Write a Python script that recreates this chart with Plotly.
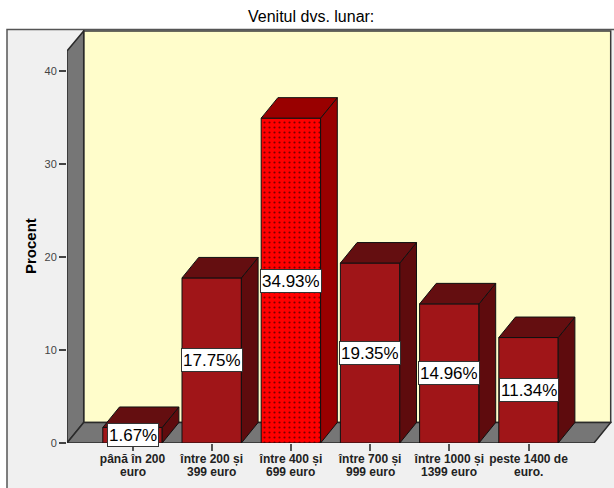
import plotly.graph_objects as go

categories = ["până în 200<br>euro", "între 200 și<br>399 euro", "între 400 și<br>699 euro",
              "între 700 și<br>999 euro", "între 1000 și<br>1399 euro", "peste 1400 de<br>euro."]
percent = [1.67, 17.75, 34.93, 19.35, 14.96, 11.34]
y_ticks = [0, 10, 20, 30, 40]
highlight = 2

W, H = 614, 488
PL, PR, PT, PB = 67, 612, 30, 443     # plot area in pixels
CAT_STEP = 79.2
Y_STEP = 9.3
x_min = -(132.5 - PL) / CAT_STEP
x_max = x_min + (PR - PL) / CAT_STEP
y_max = (PB - PT) / Y_STEP

BAR_W = 59.4 / CAT_STEP
DX = 16.7 / CAT_STEP
DY = 20.5 / Y_STEP
FRONT_END = x_min + (594 - PL) / CAT_STEP
WALL_TOP = (PB - 51) / Y_STEP

FRONT, SIDE, TOP = "#A01518", "#5E0B0D", "#640E10"
H_FRONT, H_SIDE = "#FF0000", "#990000"
EDGE = "#111111"
WALL = "#767676"
BACK = "#FFFDCB"
PANEL = "#F0F0F0"

fig = go.Figure()

plain = [i for i in range(len(percent)) if i != highlight]
fig.add_trace(go.Bar(
    x=plain, y=[percent[i] for i in plain], width=BAR_W,
    marker=dict(color=FRONT, line=dict(color=EDGE, width=1)),
    hoverinfo="skip", showlegend=False,
))
fig.add_trace(go.Bar(
    x=[highlight], y=[percent[highlight]], width=BAR_W,
    marker=dict(
        color=H_FRONT,
        line=dict(color=EDGE, width=1),
        pattern=dict(shape=".", size=5, solidity=0.14, bgcolor=H_FRONT,
                     fgcolor="#7A0000", fgopacity=1, fillmode="replace"),
    ),
    hoverinfo="skip", showlegend=False,
))

for i, v in enumerate(percent):
    l, r = i - BAR_W / 2, i + BAR_W / 2
    side = H_SIDE if i == highlight else SIDE
    top = H_SIDE if i == highlight else TOP
    fig.add_trace(go.Scatter(
        x=[r, r + DX, r + DX, r, r], y=[0, DY, v + DY, v, 0],
        mode="lines", fill="toself", fillcolor=side, line=dict(color=EDGE, width=1),
        hoverinfo="skip", showlegend=False))
    fig.add_trace(go.Scatter(
        x=[l, l + DX, r + DX, r, l], y=[v, v + DY, v + DY, v, v],
        mode="lines", fill="toself", fillcolor=top, line=dict(color=EDGE, width=1),
        hoverinfo="skip", showlegend=False))

def poly(xs, ys):
    return "M" + " L".join(f"{a},{b}" for a, b in zip(xs, ys)) + " Z"

edge = dict(color="#2A2A2A", width=1.5)
shapes = [
    # outer panel
    dict(type="rect", xref="paper", yref="paper", layer="below",
         x0=(7 - PL) / (PR - PL), x1=(W + 5 - PL) / (PR - PL),
         y0=(PB - H - 5) / (PB - PT), y1=(PB - 29.5) / (PB - PT),
         fillcolor=PANEL, line=dict(color="#555555", width=1.5)),
    # back wall
    dict(type="rect", xref="x", yref="y", layer="below",
         x0=x_min + DX, x1=FRONT_END + DX, y0=DY, y1=y_max - 0.1,
         fillcolor=BACK, line=dict(color="#3A3A3A", width=1.5)),
    # left wall
    dict(type="path", xref="x", yref="y", layer="below",
         path=poly([x_min, x_min + DX, x_min + DX, x_min], [0, DY, y_max - 0.1, WALL_TOP]),
         fillcolor=WALL, line=edge),
    # floor
    dict(type="path", xref="x", yref="y", layer="below",
         path=poly([x_min, x_min + DX, FRONT_END + DX, FRONT_END], [0, DY, DY, 0]),
         fillcolor=WALL, line=edge),
]

annotations = [
    dict(x=i, y=v / 2, xref="x", yref="y", text=f"{v:.2f}%", showarrow=False,
         font=dict(family="Liberation Sans", size=17, color="#000000"),
         bgcolor="#FFFFFF", bordercolor="#333333", borderwidth=1, borderpad=1, height=20,
         xanchor="center", yanchor="middle")
    for i, v in enumerate(percent)
]
annotations.append(dict(
    x=(311 - PL) / (PR - PL), y=(PB - 16.5) / (PB - PT), xref="paper", yref="paper",
    text="Venitul dvs. lunar:", showarrow=False,
    font=dict(family="Liberation Sans", size=16, color="#000000"),
    xanchor="center", yanchor="middle"))
annotations.append(dict(
    x=(30 - PL) / (PR - PL), y=(PB - 246) / (PB - PT), xref="paper", yref="paper",
    text="<b>Procent</b>", showarrow=False, textangle=-90,
    font=dict(family="Liberation Sans", size=15, color="#000000"),
    xanchor="center", yanchor="middle"))

first_lines = [c.split("<br>")[0] for c in categories]
second_lines = [c.split("<br>")[1] for c in categories]
for i, t in enumerate(second_lines):
    annotations.append(dict(
        x=i, y=0, xref="x", yref="y", yshift=-29, text=f"<b>{t}</b>", showarrow=False,
        font=dict(family="Liberation Sans", size=12, color="#222222"),
        xanchor="center", yanchor="middle"))

fig.update_layout(
    width=W, height=H, margin=dict(l=PL, r=W - PR, t=PT, b=H - PB, autoexpand=False),
    paper_bgcolor="#FFFFFF", plot_bgcolor="rgba(0,0,0,0)",
    shapes=shapes, annotations=annotations, showlegend=False, barmode="overlay",
    xaxis=dict(range=[x_min, x_max], tickmode="array", tickvals=list(range(len(categories))),
               ticktext=[f"<b>{t}</b>" for t in first_lines],
               ticks="outside", ticklen=7, tickwidth=1.5, tickcolor="#555555",
               ticklabelstandoff=-2,
               tickfont=dict(family="Liberation Sans", size=12, color="#222222"),
               showgrid=False, zeroline=False, showline=False),
    yaxis=dict(range=[0, y_max], tickmode="array", tickvals=y_ticks,
               ticks="outside", ticklen=7, tickwidth=1.5, tickcolor="#444444",
               tickfont=dict(family="Liberation Sans", size=11, color="#444444"),
               showgrid=False, zeroline=False, showline=False),
)

fig.write_html("out.html", config={"displayModeBar": False},
               post_script="document.body.style.margin='0';document.body.style.overflow='hidden';")
